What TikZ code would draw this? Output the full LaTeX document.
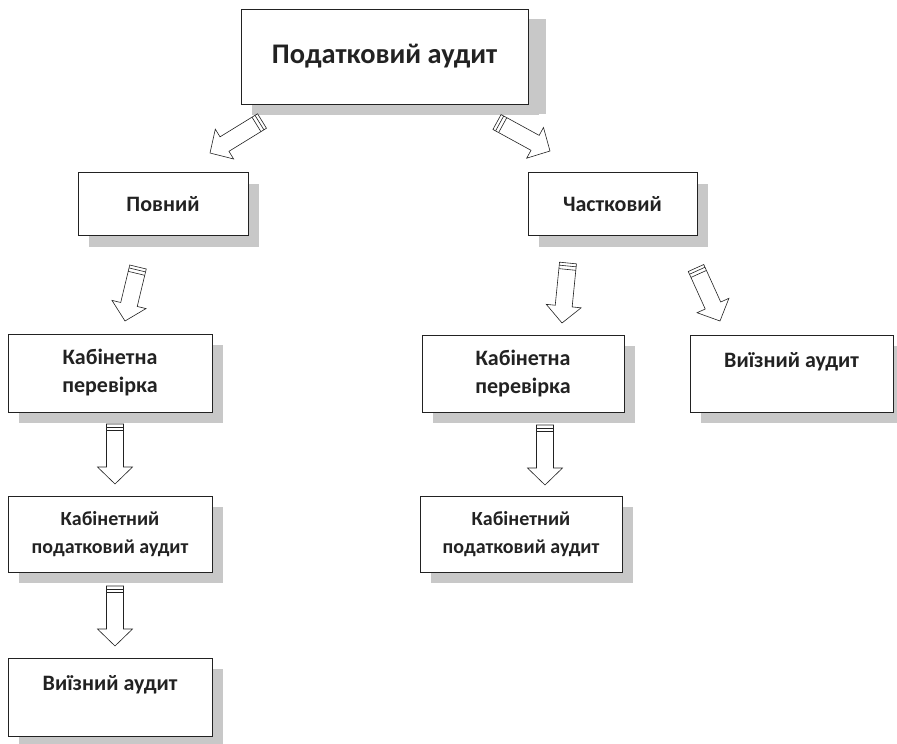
\documentclass[tikz,border=0pt]{standalone}
\usepackage{fontspec}
\setmainfont{Carlito}
\usetikzlibrary{calc,shadows}
\definecolor{shadowc}{RGB}{200,200,200}
\definecolor{inkc}{RGB}{34,34,34}
\tikzset{
  box/.style={draw=inkc, line width=0.9pt, fill=white, text=inkc, align=center,
    inner sep=0pt, font=\bfseries,
    general shadow={fill=shadowc, shadow xshift=11pt, shadow yshift=-11pt}},
  bigbox/.style={box, general shadow={fill=shadowc, shadow xshift=18pt, shadow yshift=-10pt}},
  arrowline/.style={draw=inkc, fill=white, line width=0.6pt, line join=miter},
  mid/.style={font=\bfseries\fontsize{22pt}{28pt}\selectfont},
  small/.style={font=\bfseries\fontsize{20pt}{28pt}\selectfont}
}
\newcommand\blockarrow[2]{%
  \path (#1); \pgfgetlastxy{\bax}{\bay}%
  \path (#2); \pgfgetlastxy{\bbx}{\bby}%
  \pgfmathsetmacro\bang{atan2((\bby)-(\bay),(\bbx)-(\bax))}%
  \pgfmathsetmacro\blen{veclen((\bbx)-(\bax),(\bby)-(\bay))}%
  \begin{scope}[shift={(#1)}, rotate=\bang, x=1pt, y=1pt]
    \filldraw[arrowline] (0,8.5) -- (\blen-17,8.5) -- (\blen-17,17.5) -- (\blen,0)
      -- (\blen-17,-17.5) -- (\blen-17,-8.5) -- (0,-8.5) -- cycle;
    \draw[arrowline] (3,8.5) -- (3,-8.5) (6.5,8.5) -- (6.5,-8.5);
  \end{scope}}
\begin{document}
\begin{tikzpicture}[x=1pt,y=-1pt]
\useasboundingbox (0,0) rectangle (897,744);
% boxes
\node[bigbox, minimum width=287pt, minimum height=95pt,
  font=\bfseries\fontsize{28.4pt}{32pt}\selectfont] (top) at (384.5,56.5) {Податковий аудит};
\node[box, mid, minimum width=170pt, minimum height=63pt] (full) at (163,204) {Повний};
\node[box, mid, minimum width=169pt, minimum height=63pt] (part) at (612.5,204) {Частковий};
\node[box, mid, minimum width=204pt, minimum height=78pt] (lk1) at (110,373) {Кабінетна\\перевірка};
\node[box, small, minimum width=204pt, minimum height=76pt] (lk2) at (110,534) {Кабінетний\\податковий аудит};
\node[box, mid, minimum width=204pt, minimum height=78pt] (lv) at (110,697) {Виїзний аудит\\\mbox{}};
\node[box, mid, minimum width=202pt, minimum height=77pt] (rk1) at (523,373.5) {Кабінетна\\перевірка};
\node[box, small, minimum width=202pt, minimum height=76pt] (rk2) at (521,534) {Кабінетний\\податковий аудит};
\node[box, mid, minimum width=203pt, minimum height=77pt] (rv) at (791.5,373.5) {Виїзний аудит\\\mbox{}};
% arrow ends
\coordinate (t1) at (262,121); \coordinate (h1) at (210,153);
\coordinate (t2) at (497,122); \coordinate (h2) at (550,151);
\coordinate (t3) at (138,267); \coordinate (h3) at (125,321);
\coordinate (t4) at (568,263); \coordinate (h4) at (562,323);
\coordinate (t5) at (696,268); \coordinate (h5) at (720,321);
\coordinate (t6) at (115,424); \coordinate (h6) at (115,484);
\coordinate (t7) at (115,586); \coordinate (h7) at (115,646);
\coordinate (t8) at (545,425); \coordinate (h8) at (545,485);
\blockarrow{t1}{h1}
\blockarrow{t2}{h2}
\blockarrow{t3}{h3}
\blockarrow{t4}{h4}
\blockarrow{t5}{h5}
\blockarrow{t6}{h6}
\blockarrow{t7}{h7}
\blockarrow{t8}{h8}
\end{tikzpicture}
\end{document}
